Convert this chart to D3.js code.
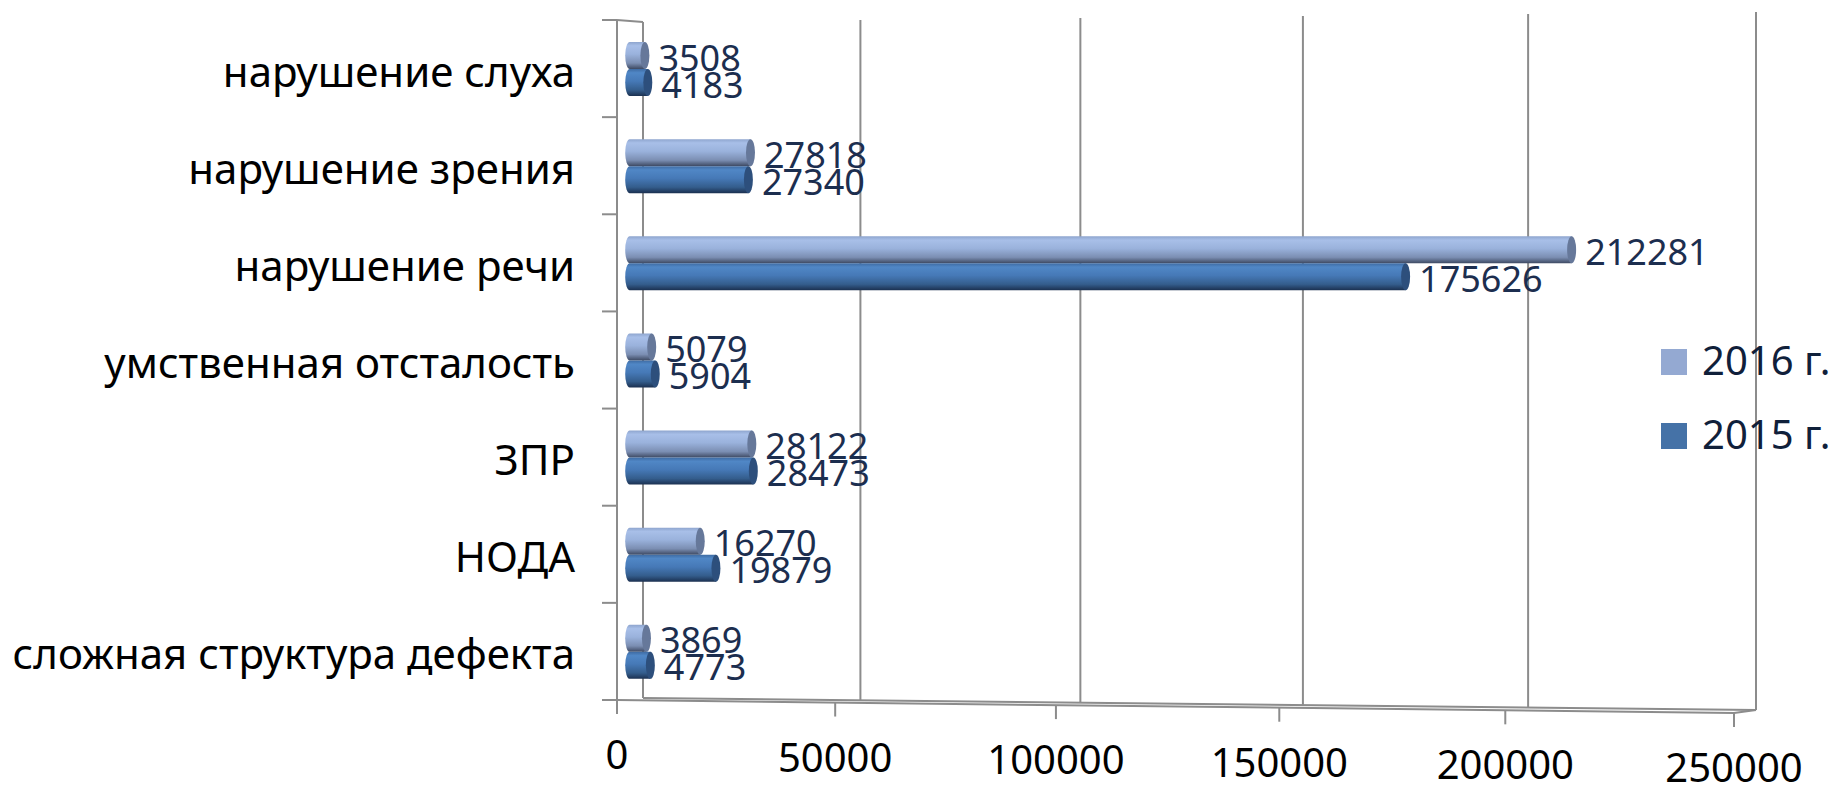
<!DOCTYPE html>
<html>
<head>
<meta charset="utf-8">
<script src="https://cdn.jsdelivr.net/npm/d3@7"></script>
<style>
  body { margin: 0; background: #fff; }
  text { font-family: 'Noto Sans', 'Open Sans', sans-serif; }
</style>
</head>
<body>
<div class="chart"></div>
<script>
// Data (top to bottom as shown)
const categories = ['нарушение слуха', 'нарушение зрения', 'нарушение речи', 'умственная отсталость', 'ЗПР', 'НОДА', 'сложная структура дефекта']
const values2016 = [3508, 27818, 212281, 5079, 28122, 16270, 3869]
const values2015 = [4183, 27340, 175626, 5904, 28473, 19879, 4773]
const seriesNames = ['2016 г.', '2015 г.']
const tickValues = [0, 50000, 100000, 150000, 200000, 250000]

function draw() {
  const dimensions = { width: 1839, height: 791 }

  // value -> 0..1, then a little perspective stretch to the right
  const _tScale = d3.scaleLinear().domain([0, 250000]).range([0, 1])
  const k = -0.029
  const persp = t => t * (1 + k) / (1 + k * t)

  // three depth planes: front edge, bars (middle), back wall
  const _frontX = d3.scaleLinear().domain([0, 1]).range([617, 1734])
  const _barX = d3.scaleLinear().domain([0, 1]).range([629.7, 1744])
  const _backX = d3.scaleLinear().domain([0, 1]).range([643, 1756])
  const fx = v => _frontX(persp(_tScale(v)))
  const bx = v => _barX(persp(_tScale(v)))
  const kx = v => _backX(persp(_tScale(v)))

  const frontBottom = d3.scaleLinear().domain([617, 1734]).range([700, 713])
  const backBottom = d3.scaleLinear().domain([643, 1756]).range([698, 710])
  const backTop = d3.scaleLinear().domain([643, 1756]).range([22, 12])

  const _yScale = d3.scaleBand().domain(categories).range([20, 700])
  const _ySeries = d3.scaleBand().domain(seriesNames).range([22, 76])

  const _cont = d3.select('.chart')
                  .append('svg')
                  .attr('width', dimensions.width)
                  .attr('height', dimensions.height)

  // gradients for the cylinders
  const defs = _cont.append('defs')
  const grads = {
    '2016 г.': [[0, '#8EA5CE'], [0.14, '#A8BFE8'], [0.45, '#9AB2DC'], [0.78, '#7B8EB2'], [1, '#3D4962']],
    '2015 г.': [[0, '#3E6BA3'], [0.14, '#5087C6'], [0.45, '#4679B7'], [0.78, '#345D8C'], [1, '#1B3050']]
  }
  const capCol = { '2016 г.': '#66789A', '2015 г.': '#2D4F7C' }
  const legendCol = { '2016 г.': '#94A9D2', '2015 г.': '#4572A7' }
  seriesNames.forEach((s, i) => {
    const g = defs.append('linearGradient').attr('id', 'g' + i)
                  .attr('x1', 0).attr('y1', 0).attr('x2', 0).attr('y2', 1)
    grads[s].forEach(st => g.append('stop').attr('offset', st[0]).attr('stop-color', st[1]))
  })

  const axisCol = '#8C8C8C'
  const walls = _cont.append('g')
                     .attr('stroke', axisCol)
                     .attr('stroke-width', 2)
                     .attr('fill', 'none')

  // back wall gridlines
  walls.selectAll('.grid')
       .data(tickValues)
       .join('line')
       .attr('x1', d => kx(d)).attr('x2', d => kx(d))
       .attr('y1', d => backTop(kx(d)))
       .attr('y2', d => backBottom(kx(d)))

  // floor
  walls.append('line')
       .attr('x1', fx(0)).attr('y1', frontBottom(fx(0)))
       .attr('x2', fx(250000)).attr('y2', frontBottom(fx(250000)))
  walls.append('line')
       .attr('x1', kx(0)).attr('y1', backBottom(kx(0)))
       .attr('x2', kx(250000)).attr('y2', backBottom(kx(250000)))
  walls.append('line')
       .attr('x1', fx(250000)).attr('y1', frontBottom(fx(250000)))
       .attr('x2', kx(250000)).attr('y2', backBottom(kx(250000)))

  // left wall
  walls.append('line')
       .attr('x1', fx(0)).attr('y1', 20)
       .attr('x2', fx(0)).attr('y2', frontBottom(fx(0)))
  walls.append('line')
       .attr('x1', fx(0)).attr('y1', 20)
       .attr('x2', kx(0)).attr('y2', backTop(kx(0)))

  // category ticks
  const catEdges = categories.map(c => _yScale(c)).concat([700])
  walls.selectAll('.ctick')
       .data(catEdges)
       .join('line')
       .attr('x1', fx(0) - 15).attr('x2', fx(0))
       .attr('y1', d => d).attr('y2', d => d)

  // value ticks
  walls.selectAll('.vtick')
       .data(tickValues)
       .join('line')
       .attr('x1', d => fx(d)).attr('x2', d => fx(d))
       .attr('y1', d => frontBottom(fx(d)))
       .attr('y2', d => frontBottom(fx(d)) + 14)

  // value labels
  _cont.append('g')
       .selectAll('text')
       .data(tickValues)
       .join('text')
       .attr('x', d => fx(d))
       .attr('y', d => frontBottom(fx(d)) + 69)
       .attr('text-anchor', 'middle')
       .attr('font-size', 40)
       .attr('fill', '#000')
       .text(d => d)

  // category labels
  _cont.append('g')
       .selectAll('text')
       .data(categories)
       .join('text')
       .attr('x', 575)
       .attr('y', d => _yScale(d) + _yScale.bandwidth() / 2 + 18)
       .attr('text-anchor', 'end')
       .attr('font-size', 42)
       .attr('fill', '#000')
       .text(d => d)

  // bars
  const rx = 4.5
  const cyl = (x0, x1, y, h) => {
    const ry = h / 2
    return `M${x0},${y} L${x1},${y} L${x1},${y + h} L${x0},${y + h} A${rx},${ry} 0 0 1 ${x0},${y} Z`
  }
  const rows = []
  categories.forEach((c, i) => {
    rows.push({ cat: c, s: seriesNames[0], si: 0, v: values2016[i] })
    rows.push({ cat: c, s: seriesNames[1], si: 1, v: values2015[i] })
  })
  const h = _ySeries.bandwidth()
  const barGroup = _cont.append('g')
  const bar = barGroup.selectAll('g')
                      .data(rows)
                      .join('g')
  bar.append('path')
     .attr('d', d => cyl(bx(0), bx(d.v), _yScale(d.cat) + _ySeries(d.s), h))
     .attr('fill', d => `url(#g${d.si})`)
  bar.append('ellipse')
     .attr('cx', d => bx(d.v))
     .attr('cy', d => _yScale(d.cat) + _ySeries(d.s) + h / 2)
     .attr('rx', rx)
     .attr('ry', h / 2)
     .attr('fill', d => capCol[d.s])
  bar.append('text')
     .attr('x', d => bx(d.v) + rx + 9)
     .attr('y', d => _yScale(d.cat) + _ySeries(d.s) + h / 2 + 15)
     .attr('font-size', 36)
     .attr('fill', '#1C2E4F')
     .text(d => d.v)

  // legend
  const legend = _cont.append('g')
                      .selectAll('g')
                      .data(seriesNames)
                      .join('g')
                      .attr('transform', (d, i) => `translate(1661, ${[349, 423][i]})`)
  legend.append('rect')
        .attr('width', 26).attr('height', 26)
        .attr('fill', d => legendCol[d])
  legend.append('text')
        .attr('x', 41).attr('y', 26)
        .attr('font-size', 40)
        .attr('fill', '#10203A')
        .text(d => d)
}

draw()
</script>
</body>
</html>
